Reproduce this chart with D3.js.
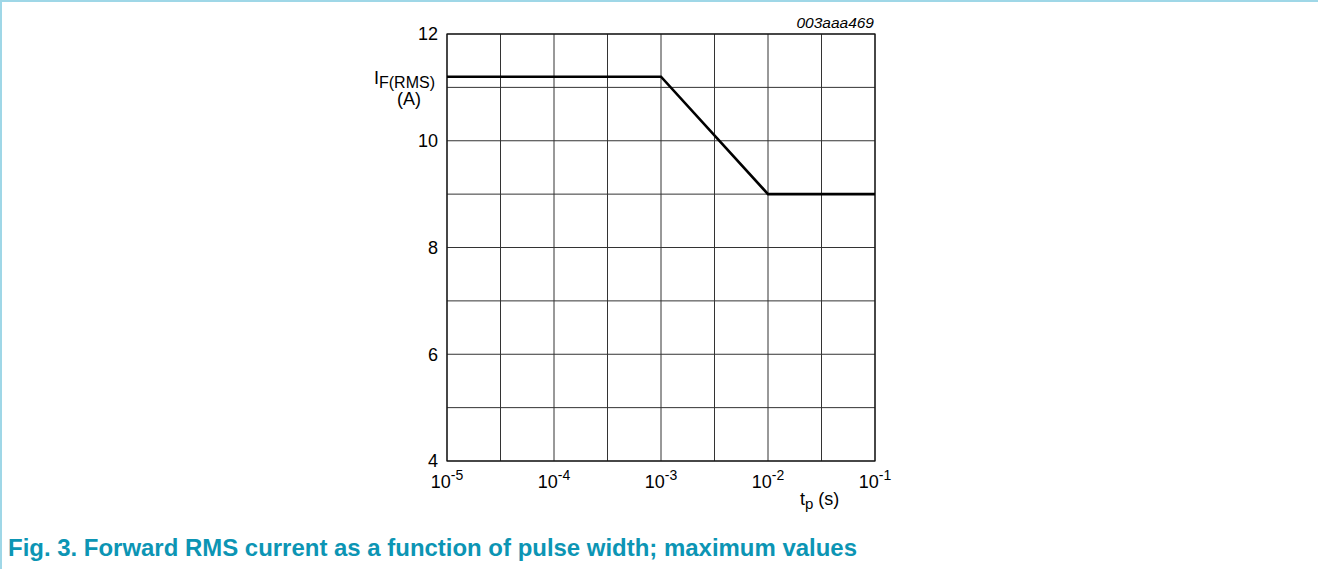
<!DOCTYPE html>
<html>
<head>
<meta charset="utf-8">
<script src="https://cdn.jsdelivr.net/npm/d3@7"></script>
<style>
  html, body { margin: 0; padding: 0; background: #fff; }
  svg { display: block; }
  text { font-family: "Liberation Sans", Arial, sans-serif; fill: #000; }
</style>
</head>
<body>
<svg id="chart" width="1318" height="569"></svg>
<script>
// ---- data ----
const pulseWidth = [1e-5, 1e-3, 1e-2, 1e-1];      // tp (s)
const currentRMS = [11.2, 11.2, 9.0, 9.0];        // IF(RMS) (A)
const xTickExponents = [-5, -4, -3, -2, -1];
const xGridValues = [1e-5, 10**-4.5, 1e-4, 10**-3.5, 1e-3, 10**-2.5, 1e-2, 10**-1.5, 1e-1];
const yTickLabels = [4, 6, 8, 10, 12];
const yGridValues = [4, 5, 6, 7, 8, 9, 10, 11, 12];
const chartId = "003aaa469";
const captionText = "Fig. 3. Forward RMS current as a function of pulse width; maximum values";

// ---- layout ----
const svg = d3.select("#chart");
const pL = 447, pR = 875, pT = 34, pB = 461;

const x = d3.scaleLog().domain([1e-5, 1e-1]).range([pL, pR]);
const y = d3.scaleLinear().domain([4, 12]).range([pB, pT]);

// outer figure border (left + top)
svg.append("line").attr("x1", 1).attr("x2", 1).attr("y1", 0).attr("y2", 569)
  .attr("stroke", "#9fd7e7").attr("stroke-width", 2);
svg.append("line").attr("x1", 0).attr("x2", 1318).attr("y1", 1).attr("y2", 1)
  .attr("stroke", "#9fd7e7").attr("stroke-width", 2);

// grid
const grid = svg.append("g");
grid.selectAll("line.v").data(xGridValues).join("line")
  .attr("class", "v")
  .attr("x1", d => x(d)).attr("x2", d => x(d))
  .attr("y1", pT).attr("y2", pB)
  .attr("stroke", "#333").attr("stroke-width", 1);
grid.selectAll("line.h").data(yGridValues).join("line")
  .attr("class", "h")
  .attr("x1", pL).attr("x2", pR)
  .attr("y1", d => y(d)).attr("y2", d => y(d))
  .attr("stroke", "#333").attr("stroke-width", 1);

// frame
svg.append("rect").attr("x", pL).attr("y", pT)
  .attr("width", pR - pL).attr("height", pB - pT)
  .attr("fill", "none").attr("stroke", "#111").attr("stroke-width", 1.2);

// y axis tick labels
svg.append("g").selectAll("text").data(yTickLabels).join("text")
  .attr("x", 438).attr("y", d => y(d))
  .attr("dy", "0.35em")
  .attr("text-anchor", "end")
  .attr("font-size", 18)
  .text(d => d);

// x axis tick labels (10^n)
const xt = svg.append("g").selectAll("text").data(xTickExponents).join("text")
  .attr("x", d => x(10 ** d)).attr("y", 488)
  .attr("text-anchor", "middle")
  .attr("font-size", 18);
xt.append("tspan").text("10");
xt.append("tspan").attr("font-size", 14).attr("dy", -8).text(d => "-" + Math.abs(d));

// line
const line = d3.line().x((d, i) => x(pulseWidth[i])).y(d => y(d));
svg.append("path").datum(currentRMS)
  .attr("d", line)
  .attr("fill", "none").attr("stroke", "#000").attr("stroke-width", 2.6)
  .attr("stroke-linejoin", "miter");

// y axis label
const yl = svg.append("text").attr("x", 374).attr("y", 84).attr("font-size", 18);
yl.append("tspan").text("I");
yl.append("tspan").attr("font-size", 16).attr("dy", 4).text("F(RMS)");
svg.append("text").attr("x", 409).attr("y", 105).attr("text-anchor", "middle")
  .attr("font-size", 18).text("(A)");

// x axis label
const xl = svg.append("text").attr("x", 800).attr("y", 505).attr("font-size", 18);
xl.append("tspan").text("t");
xl.append("tspan").attr("font-size", 15).attr("dy", 4).text("p");
xl.append("tspan").attr("dy", -4).text(" (s)");

// chart id
svg.append("text").attr("x", 874).attr("y", 28).attr("text-anchor", "end")
  .attr("font-size", 15.5).attr("font-style", "italic").text(chartId);

// caption
svg.append("text").attr("x", 8).attr("y", 556)
  .attr("font-size", 24).attr("font-weight", "bold")
  .attr("textLength", 849).attr("lengthAdjust", "spacingAndGlyphs")
  .style("fill", "#0c95b4")
  .text(captionText);
</script>
</body>
</html>
